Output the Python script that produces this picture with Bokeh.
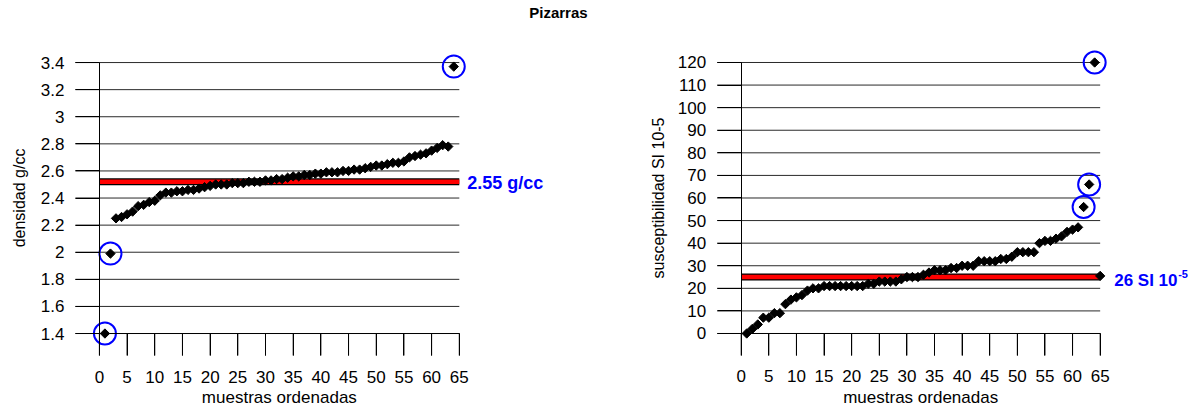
import math
from bokeh.plotting import figure
from bokeh.models import Range1d, FixedTicker, Label, CustomJSTickFormatter
from bokeh.layouts import row
from bokeh.embed import file_html
from bokeh.resources import INLINE

# ---------------- data ----------------
title_text = "Pizarras"
x_label = "muestras ordenadas"
x_ticks = [0, 5, 10, 15, 20, 25, 30, 35, 40, 45, 50, 55, 60, 65]

# density chart
dens_label = "densidad g/cc"
dens_ticks = [1.4, 1.6, 1.8, 2.0, 2.2, 2.4, 2.6, 2.8, 3.0, 3.2, 3.4]
dens_x = list(range(1, 65))
dens_y = [1.40, 1.99, 2.25, 2.26, 2.28, 2.30, 2.34, 2.35, 2.37, 2.38,
          2.42, 2.44, 2.44, 2.45, 2.45, 2.46, 2.46, 2.47, 2.48, 2.49,
          2.50, 2.50, 2.50, 2.51, 2.51, 2.51, 2.52, 2.52, 2.52, 2.53,
          2.53, 2.54, 2.54, 2.55, 2.56, 2.56, 2.57, 2.57, 2.58, 2.58,
          2.59, 2.59, 2.59, 2.60, 2.60, 2.61, 2.61, 2.62, 2.63, 2.64,
          2.64, 2.65, 2.66, 2.66, 2.67, 2.70, 2.71, 2.72, 2.73, 2.75,
          2.77, 2.79, 2.78, 3.37]
dens_mean = 2.52
dens_mean_text = "2.55 g/cc"
dens_outliers = [1, 2, 64]

# susceptibility chart
sus_label = "susceptibilidad SI 10-5"
sus_ticks = [0, 10, 20, 30, 40, 50, 60, 70, 80, 90, 100, 110, 120]
sus_x = list(range(1, 65))
sus_y = [0, 2, 4, 7, 7, 9, 9, 13, 15, 16,
         17, 19, 20, 20, 21, 21, 21, 21, 21, 21,
         21, 21, 22, 22, 23, 23, 23, 23, 24, 25,
         25, 25, 26, 27, 28, 28, 28, 29, 29, 30,
         30, 30, 32, 32, 32, 32, 33, 33, 34, 36,
         36, 36, 36, 40, 41, 41, 42, 43, 45, 46,
         47, 56, 66, 120]
sus_mean = 25
sus_mean_end_x = [65]
sus_mean_end_y = [25.5]
sus_mean_text = "26 SI 10"
sus_mean_sup = "-5"
sus_outliers = [62, 63, 64]

FONT = "Liberation Sans"
BLUE = "#0000FF"
W, H = 598, 407
XTICK_LEN, YTICK_LEN = 22, 24


def make_chart(xs, ys, outliers, ticks, xr, yr, ylabel, mean, ylabel_standoff):
    p = figure(width=W, height=H, x_range=Range1d(*xr), y_range=Range1d(*yr),
               output_backend="svg", toolbar_location=None, min_border=0)
    p.outline_line_color = None
    p.xgrid.visible = False
    p.ygrid.visible = False
    ppx = W / (xr[1] - xr[0])
    ppy = H / (yr[1] - yr[0])

    # gridlines from axis to axis
    p.segment(x0=[x_ticks[0]] * len(ticks), x1=[x_ticks[-1]] * len(ticks),
              y0=ticks, y1=ticks, line_color="#2a2a2a", line_width=1)
    # long outside tick marks
    p.segment(x0=x_ticks, x1=x_ticks, y0=[ticks[0]] * len(x_ticks),
              y1=[ticks[0] - XTICK_LEN / ppy] * len(x_ticks),
              line_color="black", line_width=1)
    p.segment(x0=[x_ticks[0]] * len(ticks), x1=[x_ticks[0] - YTICK_LEN / ppx] * len(ticks),
              y0=ticks, y1=ticks, line_color="black", line_width=1)

    # mean line
    p.line([x_ticks[0], x_ticks[-1]], [mean, mean], line_color="black",
           line_width=7, line_cap="butt")
    p.line([x_ticks[0], x_ticks[-1]], [mean, mean], line_color="#FF0000",
           line_width=4.5, line_cap="butt")

    p.scatter(xs, ys, marker="square", angle=math.pi / 4, size=6.6,
              fill_color="black", line_color="black")

    oy = [ys[xs.index(o)] for o in outliers]
    p.scatter(outliers, oy, marker="circle", size=22, fill_color=None,
              line_color=BLUE, line_width=2)

    for ax in (p.xaxis[0], p.yaxis[0]):
        ax.axis_line_color = "black"
        ax.major_tick_line_color = "black"
        ax.minor_tick_line_color = None
        ax.major_tick_in = 0
        ax.major_label_text_font = FONT
        ax.major_label_text_font_size = "17px"
        ax.major_label_text_color = "black"

    p.xaxis.fixed_location = ticks[0]
    p.yaxis.fixed_location = x_ticks[0]
    p.xaxis.bounds = (x_ticks[0], x_ticks[-1])
    p.yaxis.bounds = (ticks[0], ticks[-1])
    p.xaxis.ticker = FixedTicker(ticks=x_ticks)
    p.yaxis.ticker = FixedTicker(ticks=ticks)
    p.yaxis.formatter = CustomJSTickFormatter(code="return String(tick)")
    p.xaxis.major_tick_out = XTICK_LEN
    p.yaxis.major_tick_out = YTICK_LEN
    p.xaxis.major_label_standoff = 15
    p.yaxis.major_label_standoff = 11
    p.yaxis.axis_label = ylabel
    p.yaxis.axis_label_text_font = FONT
    p.yaxis.axis_label_text_color = "black"
    p.yaxis.axis_label_text_font_style = "normal"
    p.yaxis.axis_label_text_font_size = "16px"
    p.yaxis.axis_label_standoff = ylabel_standoff

    p.add_layout(Label(x=(x_ticks[0] + x_ticks[-1]) / 2, y=ticks[0], y_offset=-64,
                       text=x_label, text_font=FONT, text_font_size="17px",
                       text_color="black", text_align="center", text_baseline="middle"))
    return p


left = make_chart(dens_x, dens_y, dens_outliers, dens_ticks,
                  (-17.86, 90.14), (0.854, 3.858), dens_label, dens_mean, 10)
left.add_layout(Label(x=x_ticks[-1], y=dens_mean, x_offset=8, y_offset=-1,
                      text=dens_mean_text, text_font=FONT, text_font_style="bold",
                      text_font_size="18px", text_color=BLUE, text_baseline="middle"))
left.add_layout(Label(x=82.9, y=3.769, text=title_text, text_font=FONT,
                      text_font_style="bold", text_font_size="15px", text_color="black",
                      text_align="center", text_baseline="middle"))

right = make_chart(sus_x, sus_y, sus_outliers, sus_ticks,
                   (-25.84, 82.44), (-32.77, 147.45), sus_label, sus_mean, 8)
right.scatter(sus_mean_end_x, sus_mean_end_y, marker="square", angle=math.pi / 4,
              size=6.6, fill_color="black", line_color="black")
right.add_layout(Label(x=x_ticks[-1], y=sus_mean, x_offset=14, y_offset=-3,
                       text=sus_mean_text, text_font=FONT, text_font_style="bold",
                       text_font_size="17px", text_color=BLUE, text_baseline="middle"))
right.add_layout(Label(x=x_ticks[-1], y=sus_mean, x_offset=78, y_offset=3,
                       text=sus_mean_sup, text_font=FONT, text_font_style="bold",
                       text_font_size="11px", text_color=BLUE, text_baseline="middle"))

layout = row(left, right)
open("out.html", "w").write(file_html(layout, INLINE))
